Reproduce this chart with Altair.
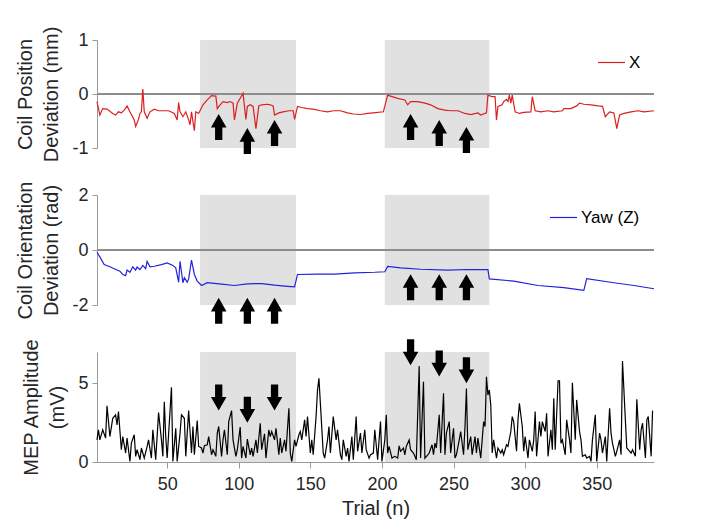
import altair as alt
import pandas as pd

FONT = "Liberation Sans"

# ---------------- data ----------------
x_trials = [1, 3, 5, 8, 12, 14, 16, 18, 20, 22, 24, 27, 28, 30, 31, 32, 33, 34, 36, 38,
            41, 44, 48, 51, 55, 57, 58, 59, 61, 63, 65, 66, 67, 69, 70, 72, 75, 78, 81, 84,
            85, 87, 89, 92, 94, 96, 97, 99, 101, 103, 105, 106, 108, 110, 112, 114, 116, 120, 122, 124,
            125, 128, 131, 135, 138, 139, 141, 144, 148, 152, 157, 162, 166, 171, 176, 180, 185, 190, 194, 201,
            204, 206, 211, 216, 218, 220, 225, 230, 234, 239, 244, 248, 253, 258, 262, 267, 269, 273, 274, 277,
            279, 280, 281, 284, 285, 287, 288, 289, 290, 291, 293, 296, 299, 304, 305, 307, 311, 316, 320, 326,
            327, 332, 336, 338, 341, 346, 351, 354, 356, 359, 362, 364, 366, 369, 374, 379, 383, 390]
x_values = [-0.14, -0.39, -0.27, -0.28, -0.36, -0.39, -0.33, -0.35, -0.30, -0.22, -0.33, -0.48, -0.60, -0.47, -0.36, -0.33, 0.09, -0.33, -0.45, -0.33,
            -0.28, -0.31, -0.31, -0.31, -0.36, -0.48, -0.16, -0.33, -0.42, -0.33, -0.48, -0.57, -0.33, -0.68, -0.33, -0.36, -0.20, -0.11, -0.03, -0.04,
            -0.27, -0.20, -0.14, -0.16, -0.14, -0.17, -0.48, -0.17, -0.08, 0.01, -0.47, -0.23, -0.20, -0.23, -0.64, -0.22, -0.20, -0.19, -0.20, -0.22,
            -0.39, -0.35, -0.33, -0.31, -0.31, -0.47, -0.23, -0.25, -0.27, -0.28, -0.31, -0.33, -0.31, -0.31, -0.35, -0.37, -0.38, -0.36, -0.35, -0.33,
            -0.02, -0.04, -0.08, -0.11, -0.20, -0.14, -0.14, -0.17, -0.20, -0.27, -0.30, -0.31, -0.31, -0.36, -0.38, -0.35, -0.39, -0.35, -0.02, -0.05,
            -0.05, -0.48, -0.23, -0.20, -0.14, -0.10, -0.14, -0.02, -0.17, -0.02, -0.33, -0.36, -0.34, -0.33, -0.05, -0.31, -0.33, -0.31, -0.33, -0.31,
            -0.27, -0.27, -0.22, -0.17, -0.19, -0.20, -0.22, -0.23, -0.42, -0.33, -0.35, -0.64, -0.39, -0.36, -0.33, -0.31, -0.33, -0.31]

yaw_trials = [1, 3, 6, 10, 13, 17, 19, 21, 22, 24, 26, 28, 29, 31, 33, 35, 36, 38, 41, 46,
              50, 54, 56, 58, 59, 61, 62, 64, 65, 67, 69, 71, 74, 78, 88, 97, 106, 116, 125, 134,
              139, 141, 155, 167, 181, 195, 202, 204, 213, 227, 246, 260, 274, 275, 292, 309, 327, 341, 343, 362,
              376, 390]
yaw_values = [-0.08, -0.25, -0.53, -0.61, -0.68, -0.77, -0.89, -0.93, -0.73, -0.81, -0.61, -0.73, -0.62, -0.71, -0.56, -0.68, -0.41, -0.61, -0.59, -0.53,
              -0.47, -0.56, -0.65, -1.17, -0.41, -1.19, -1.01, -1.17, -1.05, -0.37, -0.89, -1.13, -1.29, -1.19, -1.24, -1.29, -1.23, -1.22, -1.28, -1.32,
              -1.34, -0.89, -0.88, -0.88, -0.83, -0.81, -0.79, -0.60, -0.65, -0.70, -0.73, -0.71, -0.71, -1.05, -1.13, -1.29, -1.37, -1.47, -1.04, -1.19,
              -1.29, -1.41]

mep_trials = [1, 2, 3, 5, 7, 8, 10, 12, 14, 15, 16, 18, 19, 21, 22, 24, 25, 27, 28, 29,
              31, 32, 34, 36, 37, 39, 40, 42, 44, 46, 47, 48, 49, 50, 53, 54, 56, 57, 59, 60,
              62, 63, 65, 67, 68, 69, 71, 72, 74, 75, 76, 78, 79, 81, 82, 84, 85, 86, 88, 89,
              90, 92, 93, 95, 96, 98, 99, 101, 102, 103, 105, 106, 108, 109, 110, 112, 113, 115, 116, 118,
              119, 121, 122, 123, 125, 126, 128, 129, 130, 132, 133, 135, 136, 137, 139, 140, 142, 143, 144, 146,
              147, 148, 150, 151, 152, 154, 155, 156, 157, 159, 160, 162, 163, 164, 166, 168, 169, 171, 172, 173,
              175, 176, 177, 179, 180, 182, 183, 185, 186, 188, 189, 191, 192, 194, 195, 197, 198, 199, 200, 202,
              203, 204, 205, 207, 209, 211, 212, 213, 215, 216, 217, 219, 220, 222, 223, 224, 226, 227, 229, 230,
              232, 233, 235, 236, 237, 238, 240, 241, 243, 244, 245, 247, 248, 250, 251, 252, 254, 255, 257, 258,
              259, 260, 262, 263, 265, 266, 267, 269, 270, 271, 272, 273, 274, 275, 276, 277, 278, 280, 281, 283,
              284, 285, 287, 288, 290, 291, 292, 294, 295, 296, 298, 299, 300, 302, 303, 305, 306, 307, 308, 310,
              311, 312, 314, 315, 316, 318, 319, 320, 321, 323, 324, 325, 326, 328, 329, 331, 332, 333, 335, 336,
              338, 339, 340, 342, 343, 345, 346, 347, 349, 350, 352, 353, 354, 356, 357, 359, 360, 361, 363, 364,
              366, 367, 368, 370, 371, 373, 374, 375, 377, 378, 380, 381, 382, 384, 385, 386, 388, 389]
mep_values = [1.41, 2.05, 1.41, 2.05, 1.52, 3.57, 1.62, 2.78, 3.00, 2.36, 3.21, 0.78, 1.62, 0.57, 1.52, 0.04, 1.20, 1.73, 0.36, 0.78,
              0.15, 0.89, 0.25, 0.99, 1.41, 0.25, 2.05, 0.15, 3.14, 1.41, 0.36, 3.84, 1.62, 0.25, 4.75, 0.04, 2.15, 0.04, 1.84, 3.00,
              2.78, 0.36, 3.27, 0.57, 2.26, 0.46, 2.64, 0.99, 0.89, 0.57, 1.03, 1.10, 1.62, 0.46, 0.78, 0.36, 1.84, 2.26, 0.36, 1.41,
              2.05, 0.46, 2.57, 3.27, 1.41, 0.36, 0.78, 2.22, 0.25, 0.99, 0.25, 1.46, 0.46, 0.89, 0.36, 1.41, 0.57, 2.47, 0.78, 1.79,
              0.25, 2.05, 1.62, 1.94, 1.41, 2.15, 0.46, 1.52, 0.57, 1.41, 0.68, 3.42, 0.57, 0.04, 1.41, 0.99, 1.73, 1.94, 1.41, 2.68,
              1.62, 2.89, 0.57, 1.41, 0.46, 2.89, 4.58, 5.32, 3.73, 0.57, 0.25, 1.41, 2.26, 0.57, 2.89, 1.41, 2.05, 0.46, 0.15, 1.41,
              0.36, 0.89, 0.04, 1.62, 0.15, 2.89, 0.68, 1.84, 0.57, 2.05, 0.78, 0.25, 0.46, 0.57, 2.05, 0.15, 1.41, 2.57, 0.04, 1.41,
              3.00, 0.57, 0.99, 0.25, 0.36, 0.25, 1.03, 0.68, 0.89, 0.46, 0.99, 1.41, 0.78, 0.57, 0.36, 0.15, 6.10, 0.25, 5.10, 0.25,
              0.46, 0.57, 1.10, 0.46, 1.20, 0.89, 3.00, 0.57, 4.37, 0.46, 1.84, 2.57, 0.57, 2.15, 0.25, 0.46, 1.41, 1.94, 0.46, 2.26,
              4.68, 0.78, 1.62, 0.46, 1.62, 0.57, 1.52, 0.25, 1.41, 2.57, 2.26, 5.42, 4.26, 4.58, 3.63, 0.57, 1.41, 0.25, 0.89, 0.57,
              0.78, 0.46, 1.10, 0.99, 1.94, 2.89, 2.57, 0.68, 2.68, 3.73, 2.26, 0.68, 1.62, 0.25, 1.41, 0.68, 1.41, 3.21, 0.36, 2.57,
              1.62, 2.57, 1.94, 3.10, 0.36, 2.05, 0.78, 4.05, 0.78, 5.17, 5.17, 1.20, 1.41, 0.46, 2.68, 1.41, 0.57, 5.04, 1.41, 3.95,
              1.94, 1.41, 0.36, 0.46, 0.25, 0.36, 0.04, 1.41, 3.00, 0.04, 1.84, 1.41, 0.57, 1.62, 0.04, 3.42, 1.84, 1.20, 0.36, 0.68,
              1.41, 0.46, 6.43, 2.68, 0.89, 0.68, 0.57, 0.78, 0.36, 3.99, 0.78, 2.05, 2.47, 0.25, 2.68, 2.89, 0.36, 3.27]

shade_start = [73, 202]
shade_end = [140, 275]

arrow_trials = [86, 106, 125, 220, 240, 259]
arrow_top_values = [-0.61, -0.87, -0.72, -0.61, -0.72, -0.85]
arrow_mid_values = [-2.21, -2.21, -2.21, -1.35, -1.35, -1.35]
arrow_bot_values = [4.10, 3.33, 4.10, 6.98, 6.27, 5.84]

# ---------------- chart ----------------
W = 557
XDOM = [1, 390]
UP = "M -0.28 1 L -0.28 0.05 L -0.6 0.05 L 0 -1 L 0.6 0.05 L 0.28 0.05 L 0.28 1 Z"
DOWN = "M -0.28 -1 L -0.28 -0.05 L -0.6 -0.05 L 0 1 L 0.6 -0.05 L 0.28 -0.05 L 0.28 -1 Z"
LABEL_EXPR = "datum.value < 0 ? '-' + abs(datum.value) : '' + datum.value"

shade_df = pd.DataFrame({"start": shade_start, "end": shade_end})


def xenc(field, axis):
    return alt.X(field, type="quantitative",
                 scale=alt.Scale(domain=XDOM, nice=False, zero=False), axis=axis)


def panel(trials, values, series, color, ydom, yticks, ytitle, h, arrow_vals, shape,
          xaxis, zero_line, legend_x, legend_y):
    df = pd.DataFrame({"trial": trials, "value": values, "series": series})
    adf = pd.DataFrame({"trial": arrow_trials, "value": arrow_vals})
    yaxis = alt.Axis(values=yticks, labelExpr=LABEL_EXPR, labelOverlap=False,
                     title=ytitle, titlePadding=10,
                     titleLineHeight=26, tickSize=5, labelPadding=4)
    yscale = alt.Scale(domain=ydom, nice=False, zero=False)
    layers = []
    layers.append(alt.Chart(shade_df).mark_rect(color="#e1e1e1").encode(
        x=xenc("start", xaxis), x2="end", y=alt.value(0), y2=alt.value(h)))
    if zero_line:
        layers.append(alt.Chart(df).mark_rule(color="#8c8c8c", strokeWidth=1).encode(
            y=alt.datum(0, scale=yscale, axis=yaxis)))
    layers.append(alt.Chart(df).mark_line(strokeWidth=1.2).encode(
        x=xenc("trial", xaxis),
        y=alt.Y("value:Q", scale=yscale, axis=yaxis),
        color=alt.Color("series:N",
                        scale=alt.Scale(domain=[series], range=[color]),
                        legend=alt.Legend(orient="none", legendX=legend_x, legendY=legend_y,
                                          title=None, symbolType="stroke", symbolSize=729,
                                          symbolStrokeWidth=1.2, labelFont=FONT,
                                          labelFontSize=17, labelColor="black",
                                          padding=0, labelOffset=3))
        if legend_x is not None else alt.value(color)))
    layers.append(alt.Chart(adf).mark_point(shape=shape, filled=True, size=676,
                                           color="black", opacity=1, strokeWidth=0).encode(
        x=xenc("trial", xaxis), y=alt.Y("value:Q", scale=yscale, axis=yaxis)))
    return alt.layer(*layers).properties(width=W, height=h)


p1 = panel(x_trials, x_values, "X", "#dc1f1f", [-1, 1], [-1, 0, 1],
           ["Coil Position", "Deviation (mm)"], 108, arrow_top_values, UP,
           None, True, 500, 8)
p2 = panel(yaw_trials, yaw_values, "Yaw (Z)", "#2222dd", [-2, 2], [-2, 0, 2],
           ["Coil Orientation", "Deviation (rad)"], 110, arrow_mid_values, UP,
           None, True, 452, 8)
xaxis_bottom = alt.Axis(values=[50, 100, 150, 200, 250, 300, 350], title="Trial (n)",
                        tickSize=6, labelPadding=7, titlePadding=5)
p3 = panel(mep_trials, mep_values, "MEP", "#000000", [0, 7], [0, 5],
           ["MEP Amplitude", "(mV)"], 110, arrow_bot_values, DOWN,
           xaxis_bottom, False, None, None)

chart = alt.vconcat(p1, p2, p3, spacing=47, bounds="flush").resolve_scale(
    y="independent", color="independent"
).resolve_axis(y="independent").properties(
    padding={"left": 7, "top": 18, "right": 5, "bottom": 5}
).configure_view(stroke=None).configure_axis(
    grid=False, labelFont=FONT, titleFont=FONT, labelFontSize=18, titleFontSize=20,
    labelColor="#262626", titleColor="#262626", titleFontWeight="normal",
    domainColor="#9a9a9a", tickColor="#9a9a9a", domainWidth=1
)

chart.save("out.html", embed_options={"renderer": "svg", "actions": False})
